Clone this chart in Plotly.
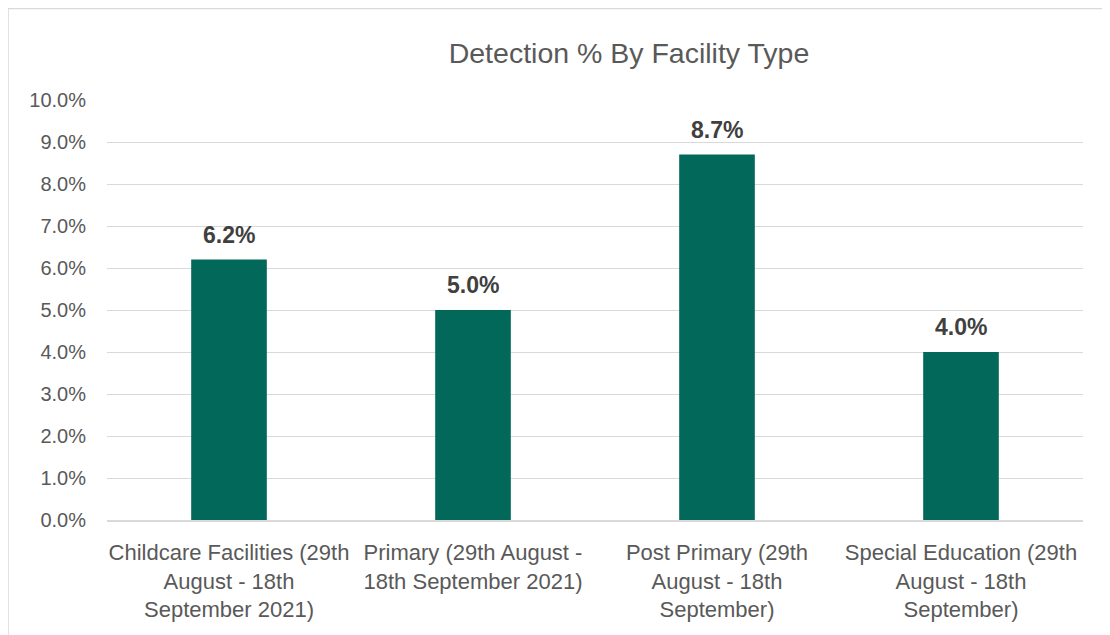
import plotly.graph_objects as go

categories = [
    "Childcare Facilities (29th<br>August - 18th<br>September 2021)",
    "Primary (29th August -<br>18th September 2021)",
    "Post Primary (29th<br>August - 18th<br>September)",
    "Special Education (29th<br>August - 18th<br>September)",
]
values = [0.062, 0.050, 0.087, 0.040]
labels = ["6.2%", "5.0%", "8.7%", "4.0%"]
title_text = "Detection % By Facility Type"

BAR = "#02695A"
FONT = "Liberation Sans, Arial, sans-serif"

OFF = 8  # page body margin
W, H = 1110 - OFF, 635 - OFF
L, T = 107 - OFF, 100 - OFF
R = W - (1083 - OFF)
B = H - (520 - OFF)
pw, ph = W - L - R, H - T - B

fig = go.Figure()
fig.add_trace(go.Bar(
    x=categories, y=values,
    marker=dict(color=BAR, line=dict(width=0)),
    width=0.31,
    hoverinfo="skip",
))

for c, v, t in zip(categories, values, labels):
    fig.add_annotation(
        x=c, y=v, text="<b>%s</b>" % t, showarrow=False,
        yanchor="middle", yshift=25,
        font=dict(family=FONT, size=23, color="#404040"),
    )

# chart border (Excel chart area)
fig.add_shape(
    type="rect", xref="paper", yref="paper",
    x0=(8 - OFF - L) / pw, x1=(1140 - OFF - L) / pw,
    y0=(H - B - 700) / ph, y1=(H - B - (8 - OFF) - 0.5) / ph,
    line=dict(color="#d9d9d9", width=1.5), fillcolor="rgba(0,0,0,0)",
    layer="below",
)

fig.update_layout(
    width=W, height=H,
    margin=dict(l=L, r=R, t=T, b=B),
    paper_bgcolor="white", plot_bgcolor="white",
    showlegend=False,
    font=dict(family=FONT, color="#595959"),
    title=dict(
        text=title_text, xref="paper", x=(629 - OFF - L) / pw, xanchor="center",
        yref="container", y=1 - (53 - OFF) / H, yanchor="middle",
        font=dict(family=FONT, size=28.5, color="#595959"),
    ),
)
fig.update_yaxes(
    range=[0, 0.1], dtick=0.01, tickformat=".1%",
    showgrid=True, gridcolor="#d9d9d9", gridwidth=1,
    zeroline=False, showline=False,
    tickfont=dict(family=FONT, size=20, color="#595959"),
    ticklabelstandoff=20,
)
fig.update_xaxes(
    showgrid=False, showline=True, linecolor="#d9d9d9", linewidth=1.5,
    tickfont=dict(family=FONT, size=22, color="#595959"),
    ticklabelstandoff=12,
    tickangle=0,
)

fig.write_html("out.html")
